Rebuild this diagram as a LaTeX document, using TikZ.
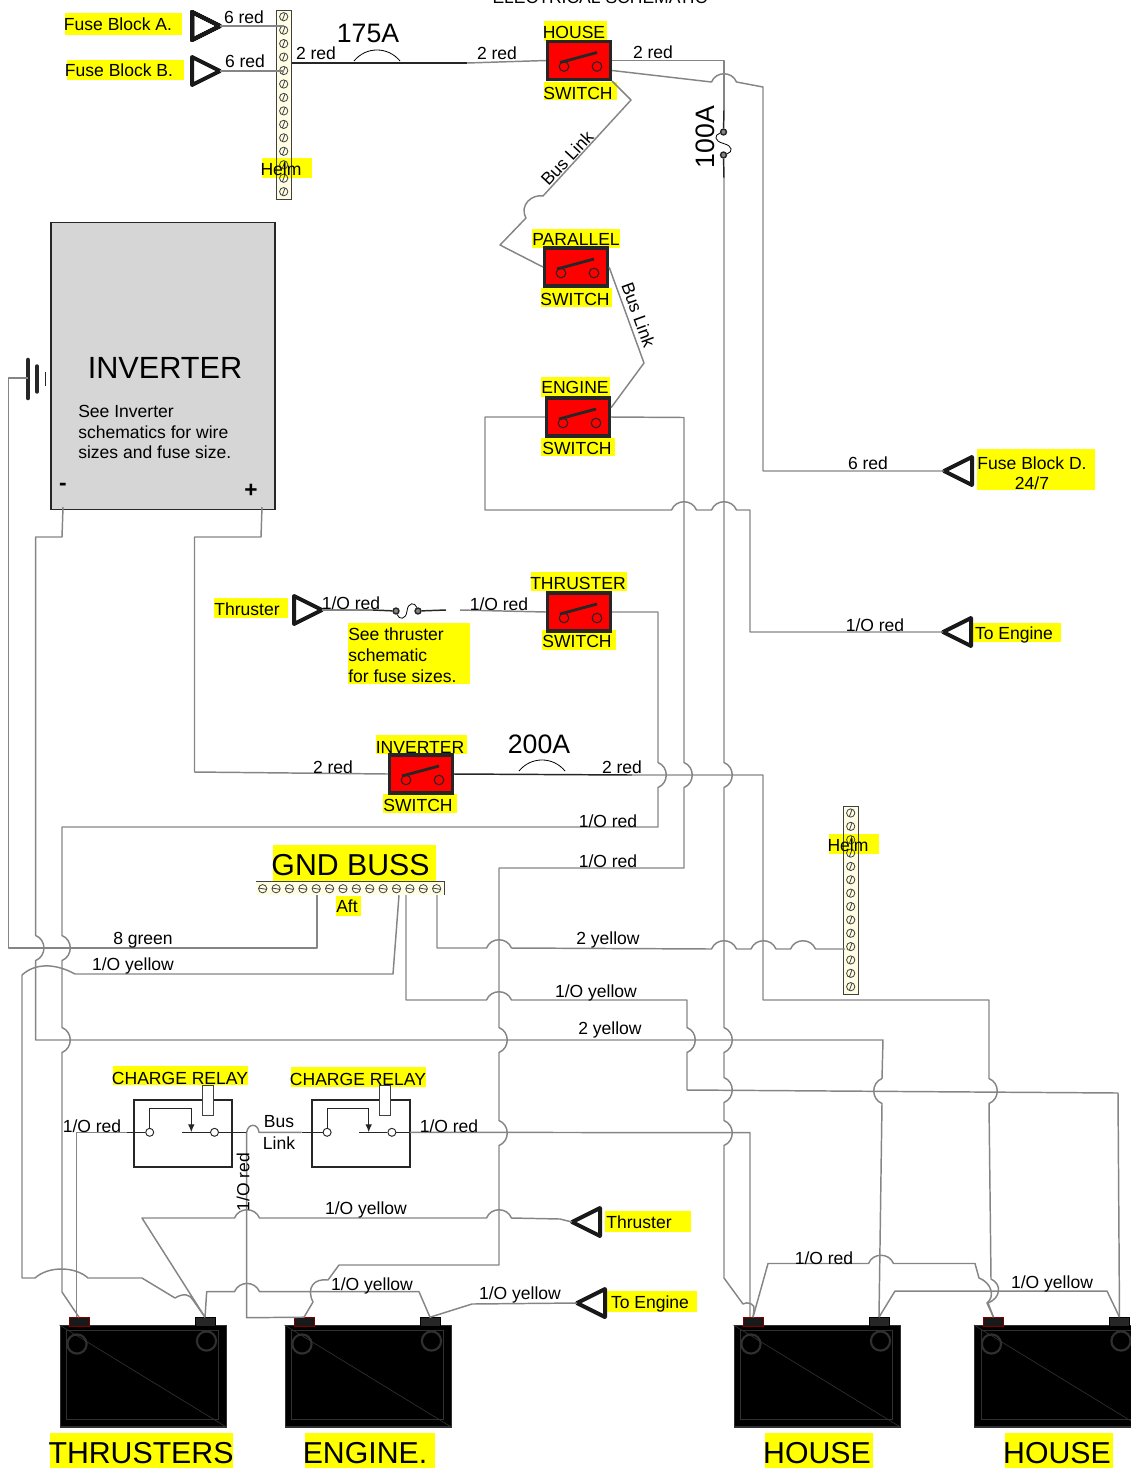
\documentclass[tikz,border=0pt]{standalone}
\usepackage{fontspec}
\setmainfont{Liberation Sans}
\usepackage{xcolor}
\usetikzlibrary{shapes.geometric}
\usetikzlibrary{arrows.meta}
\definecolor{wiregray}{HTML}{858585}
\definecolor{markyellow}{HTML}{FFFF00}
\definecolor{barcream}{HTML}{FFFDE3}
\definecolor{invgray}{HTML}{D6D6D6}
\definecolor{batgray}{HTML}{303030}
\tikzset{
	wire/.style={draw=wiregray, line width=1.1pt, line join=round},
	cable/.style={draw=black!85, line width=1.1pt},
	fusearc/.style={draw=black, line width=.6pt},
	lbl/.style={font=\fontsize{13.15}{15.4}\selectfont, inner sep=0pt, align=left},
	biglbl/.style={font=\fontsize{20}{24}\selectfont, inner sep=0pt},
	hugelbl/.style={font=\fontsize{22.7}{28}\selectfont, inner sep=0pt},
	swbox/.style={draw=black!85, fill=red, line width=2.4pt, minimum width=47.25pt, minimum height=28.5pt, inner sep=0pt},
	swpin/.style={draw=black!85, line width=.8pt},
	swarm/.style={draw=black!85, line width=2.1pt},
	termtri/.style={isosceles triangle, isosceles triangle stretches, draw=black!90, line width=3pt, line join=round, minimum width=21pt, minimum height=21pt, inner sep=0pt, outer sep=0pt, anchor=apex},
	fusedot/.style={circle, draw=black!85, fill=wiregray, line width=1.1pt, minimum size=4.4pt, inner sep=0pt},
	screw/.style={draw=black!75, line width=.6pt},
	relaybox/.style={draw=black!85, fill=white, line width=1.4pt, minimum width=73.5pt, minimum height=50pt, anchor=north west, inner sep=0pt},
	relaytab/.style={draw=black!75, fill=white, line width=.8pt, minimum width=8pt, minimum height=22pt, inner sep=0pt},
	relaypin/.style={circle, draw=black!85, fill=white, line width=.7pt, minimum size=6pt, inner sep=0pt},
	relayline/.style={draw=black!85, line width=.9pt},
	batbox/.style={draw=batgray, fill=black, line width=.9pt, minimum width=124.5pt, minimum height=76pt, anchor=north west, inner sep=0pt},
	batline/.style={draw=batgray, line width=.5pt},
	batneg/.style={draw=red!50!black, fill=black!90, line width=.5pt, minimum width=15pt, minimum height=6.4pt, inner sep=0pt},
	batpos/.style={draw=black, fill=black!85, line width=.5pt, minimum width=15pt, minimum height=6.4pt, inner sep=0pt}
}
\newcommand{\jumpup}[2]{-- ({#1-12.5},#2) .. controls ({#1-8},{#2-11}) and ({#1+8},{#2-11}) .. ({#1+12.5},#2)}
\newcommand{\jumpright}[2]{-- (#1,{#2-12.5}) .. controls ({#1+11},{#2-8}) and ({#1+11},{#2+8}) .. (#1,{#2+12.5})}
\newcommand{\jumpleft}[2]{-- (#1,{#2-12.5}) .. controls ({#1-11},{#2-8}) and ({#1-11},{#2+8}) .. (#1,{#2+12.5})}
\newcommand{\screwmark}[3]{\draw[screw] (#1,#2) circle (3.1pt) (#1,#2) ++(#3:3.1pt) -- ++(#3+180:6.2pt);}
\newcommand{\mainswitch}[3]{
	\node[swbox] (#1) at (#2,#3) {};
	\draw[swarm] (#1.center) ++(-19,2) -- ++(37,-10);
	\draw[swpin] (#1.center) ++(-15,6) circle (3.6pt);
	\draw[swpin] (#1.center) ++(18,6) circle (3.6pt);
}
\newcommand{\chargerelay}[2]{
	\node[relaybox] (#1) at (#2,1099) {};
	\node[relaytab] (#1-tab) at ({#2+74.5},1100.4) {};
	\node[relaypin] (#1-a) at ({#2+16.4},1132.3) {};
	\node[relaypin] (#1-b) at ({#2+81.2},1132.3) {};
	\draw[relayline, -{Latex[length=6pt,width=5pt]}] (#1-a.north) -- ({#2+16.4},1108.3) -- ({#2+58},1108.3) -- ({#2+58},1132.3);
	\draw[relayline] ({#2+48.7},1132.3) -- (#1-b.west);
}
\newcommand{\battery}[2]{
	\node[batbox] (#1) at (#2,1325) {};
	\draw[batline] ({#2+7},1330) rectangle ({#2+159},1419);
	\draw[batline] (#2,1325) -- ({#2+166},1426.5);
	\draw[batgray, line width=1.6pt] ({#2+17.5},1344) circle (7.2pt);
	\draw[batgray, line width=1.6pt] ({#2+147},1341) circle (7.2pt);
	\node[batneg] (#1-neg) at ({#2+19.5},1321.8) {};
	\node[batpos] (#1-pos) at ({#2+145.5},1321.8) {};
}
\begin{document}
\begin{tikzpicture}[x=0.75pt,y=-0.75pt]
	\useasboundingbox (0,0) rectangle (1131,1468);
	% bars go under the marker
	\node[fill=barcream, minimum width=10.9pt, minimum height=141.5pt, inner sep=0pt] (helmA) at (284.2,105) {};
	\node[fill=barcream, minimum width=10.9pt, minimum height=140.7pt, inner sep=0pt] (helmB) at (851,900.5) {};
	\node[fill=barcream, minimum width=141.2pt, minimum height=10pt, inner sep=0pt] (gndbar) at (350.2,888.3) {};
	\foreach \xa/\ya/\xb/\yb in {65/13/182/35, 67/60/184/80, 262/158/312/178, 544/21/607/41, 544/82/617/100, 532/229/620/248, 541/288/612/307, 541/377/610/397, 541/438/615/456, 977/449/1095/490, 973/623/1061/642, 214/598/288/618, 531/572/627/591, 542/630/616/650, 348/623/470/684, 376/735/467/754, 383/794/457/813, 273/845/436/881, 336/896/361/916, 829/834/879/854, 113/1066/248/1085, 291/1067/426/1087, 605/1211/691/1232, 607/1291/697/1312, 50/1433/233/1468, 305/1433/435/1468, 765/1433/873/1468, 1005/1433/1113/1468}
		\fill[markyellow] (\xa,\ya) rectangle (\xb,\yb);
	\draw[black!75, line width=.8pt] (helmA.south west) rectangle (helmA.north east);
	\draw[black!75, line width=.8pt] (helmB.south west) rectangle (helmB.north east);
	\draw[black!75, line width=.7pt] (gndbar.north west) -- (gndbar.north east) -- (gndbar.south east);
	\foreach \i in {0,...,13} {
		\screwmark{283.7}{{16.7+13.46*\i}}{70}
		\screwmark{850.7}{{813+13.36*\i}}{70}
		\screwmark{{262.7+13.38*\i}}{888.7}{-10}
	}
	% inverter and earth
	\node[draw=black!85, fill=invgray, line width=1.1pt, minimum width=168pt, minimum height=215.5pt, inner sep=0pt] (inverter) at (163.2,366) {};
	\coordinate (invneg) at (63,507);
	\coordinate (invpos) at (262,507);
	\coordinate (earth) at (28,378);
	\draw[black!85, line width=3.4pt, line cap=round] (28,360) -- (28,398);
	\draw[black!85, line width=2.6pt, line cap=round] (37,366) -- (37,392);
	\draw[black!85, line width=1.1pt] (45.7,372) -- (45.7,386);
	% switches
	\foreach \nm/\px/\py in {housesw/579/60.5, parallelsw/576/267, enginesw/578/417, thrustersw/579/612, invertersw/421/774}
		\mainswitch{\nm}{\px}{\py}
	% terminals
	\node[termtri] (fuseA) at (220,26) {};
	\node[termtri] (fuseB) at (220,71) {};
	\node[termtri] (thrusterA) at (322,610) {};
	\node[termtri, shape border rotate=180] (fuseD) at (944,471) {};
	\node[termtri, shape border rotate=180] (toengineA) at (943,632) {};
	\node[termtri, shape border rotate=180] (thrusterB) at (572,1222) {};
	\node[termtri, shape border rotate=180] (toengineB) at (577,1303) {};
	% fuses
	\node[fusedot] (fuseCa) at (723.5,132) {};
	\node[fusedot] (fuseCb) at (723.5,155) {};
	\node[fusedot] (fuseTa) at (396,611) {};
	\node[fusedot] (fuseTb) at (418,611) {};
	\draw[fusearc] (fuseCa) .. controls (714,135) and (714,141) .. (723.5,143.5) .. controls (733,146) and (733,152) .. (fuseCb);
	\draw[fusearc] (fuseTa) .. controls (399,620) and (406,620) .. (407,611) .. controls (408,602) and (415,602) .. (fuseTb);
	\draw[fusearc] (354,61) .. controls (366,46.3) and (388,46.3) .. (400,61);
	\draw[fusearc] (519,771) .. controls (531,756.3) and (553,756.3) .. (565,771);
	% relays and batteries
	\chargerelay{relayA}{133.3}
	\chargerelay{relayB}{310.7}
	\battery{thr}{59.5}
	\battery{eng}{284.5}
	\battery{hsa}{733.5}
	\battery{hsb}{974}
	% top wires
	\draw[wire] (fuseA.apex) -- (fuseA.apex -| helmA.center);
	\draw[wire] (fuseB.apex) -- (fuseB.apex -| helmA.center);
	\draw[cable] (helmA.east |- 0,63) -- (467,63);
	\draw[wire] (467,63) -- (housesw.west);
	\draw[wire] (housesw.east) -- (724,60.5) -- (724,110);
	\draw[cable] (724,110) -- (fuseCa) (fuseCb) -- (724,178);
	\draw[wire] (724,178) \jumpright{724}{775} \jumpright{724}{1040} \jumpright{724}{1090} \jumpright{724}{1133} -- (724,1278) -- (743,1304) .. controls (747,1301) and (756,1304) .. (754,1310) -- (hsa-neg.north);
	\draw[wire] ([yshift=-7.5pt]housesw.east) \jumpup{724}{82} -- (763,87) -- (763,471) -- (fuseD.apex);
	\draw[wire] (housesw.south east) -- (631,100) -- (543,196) .. controls (532,194) and (519,205) .. (526,218) -- (500,245) -- (parallelsw.west);
	\draw[wire] (parallelsw.east) -- (644,363) -- ([yshift=7pt]enginesw.east);
	% engine and thruster
	\draw[wire] (enginesw.east) -- (684,417.5) \jumpright{684}{775} -- (684,868) -- (499,868) \jumpright{499}{1040} \jumpright{499}{1133} -- (499,1265) -- (339,1265) -- (328,1280) .. controls (314,1278) and (306,1288) .. (313,1302) -- (eng-neg.north);
	\draw[wire] (enginesw.west) -- (485,417) -- (485,510) \jumpup{684}{510} \jumpup{724}{510} -- (750,510) -- (750,632) -- (toengineA.apex);
	\draw[wire] (thrusterA.apex) -- (373,610);
	\draw[cable] (373,610) -- (fuseTa) (fuseTb) -- (446,610);
	\draw[wire] (460,610) -- (thrustersw.west);
	\draw[wire] (thrustersw.east) -- (658,612) \jumpright{658}{775} -- (658,827) -- (62,827) \jumpright{62}{948} \jumpright{62}{1040} -- (62,1292) -- (thr-neg.north);
	% inverter leads
	\draw[wire] (earth) -- (8.5,378) -- (8.5,948) -- (317,948) -- (317,948 |- gndbar.south);
	\draw[wire] (invneg) -- (62,537) -- (35.7,537) \jumpright{35.7}{948} -- (35.7,1040) -- (883,1040) \jumpleft{882}{1091} -- (hsa-pos.north);
	\draw[wire] (invpos) -- (261,537) -- (194.5,537) -- (194.5,772) -- (invertersw.west);
	\draw[cable] (invertersw.east) -- (632,775);
	\draw[wire] (632,775) -- (763,775) -- (763,1000) -- (989,1000) \jumpright{989}{1091} -- (991,1279) .. controls (1002,1284) and (1001,1298) .. (988,1303) -- (hsb-neg.north);
	% ground bar leads
	\draw[wire] (437,948 |- gndbar.south) -- (437,948) \jumpup{499}{948} \jumpup{724}{949} \jumpup{763.5}{949} \jumpup{803}{949} -- (845,949);
	\draw[wire] (406,1000 |- gndbar.south) -- (406,1000) \jumpup{499}{1000} -- (687,1000) \jumpright{687}{1040} -- (687,1090) -- (1118,1093) -- (hsb-pos.north);
	\draw[wire] (399,0 |- gndbar.south) -- (393,974) -- (75,974) .. controls (55,963) and (35,963) .. (22,975) -- (22,1278) -- (35,1278) .. controls (48,1266) and (75,1266) .. (88,1278) -- (142,1278) -- (175,1298) .. controls (183,1293) and (190,1294) .. (193,1300) -- (thr-pos.north);
	% relay leads
	\draw[cable] (relayA-a) -- (127,1132.3);
	\draw[wire] (127,1132.3) -- (76.7,1132.3) -- (76.7,1132 |- thr-neg.north);
	\draw[cable] (relayA-b) -- (246.7,1132.3);
	\draw[wire] (246.7,1132.3) .. controls (248,1123) and (258,1123) .. (259,1132.3) -- (301.7,1132.3);
	\draw[cable] (301.7,1132.3) -- (relayB-a);
	\draw[cable] (relayB-b) -- (410,1132.3);
	\draw[wire] (410,1132.3) -- (750,1132.7) -- (750,1133 |- hsa-neg.north);
	\draw[wire] (246.7,1132.3) -- (246.7,1317.7) -- (eng-neg.north);
	\draw[wire] (thr-pos.north) -- (142,1218) \jumpup{247}{1218} \jumpup{499}{1218} -- (560,1219) -- (thrusterB.apex);
	\draw[wire] (thr-pos.north) -- (206.7,1291.7) \jumpup{247}{1291.7} -- (419,1291.7) -- (eng-pos.north) -- (472,1304) -- (toengineB.apex);
	\draw[wire] (hsa-neg.north) -- (768,1263.5) \jumpup{881}{1263.5} -- (975,1263.5) -- (979,1278) .. controls (992,1283) and (995,1297) .. (987,1303) -- (hsb-neg.north);
	\draw[wire] (hsa-pos.north) -- (895,1291) -- (1107,1291) -- (hsb-pos.north);
	% labels
	\node[lbl] (title) at (600,-3) {ELECTRICAL SCHEMATIC};
	\node[lbl] (nameA) at (118,24) {Fuse Block A.};
	\node[lbl] (nameB) at (119,70) {Fuse Block B.};
	\node[lbl] (redA) at (244,17) {6 red};
	\node[lbl] (redB) at (245,61) {6 red};
	\node[lbl] (helmtxtA) at (281,169) {Helm};
	\node[lbl] (redC) at (316,53) {2 red};
	\node[biglbl] (amp175) at (368,33) {175A};
	\node[lbl] (redD) at (497,53) {2 red};
	\node[lbl] (redE) at (653,52) {2 red};
	\node[biglbl, rotate=90] (amp100) at (705,137) {100A};
	\node[lbl] (housetop) at (574,32) {HOUSE};
	\node[lbl] (housebot) at (578,93) {SWITCH};
	\node[lbl, rotate=47] (linkA) at (567,158) {Bus Link};
	\node[lbl] (paralleltop) at (576,239) {PARALLEL};
	\node[lbl] (parallelbot) at (575,299) {SWITCH};
	\node[lbl, rotate=-70] (linkB) at (638.5,315) {Bus Link};
	\node[lbl] (enginetop) at (575,387) {ENGINE};
	\node[lbl] (enginebot) at (577,448) {SWITCH};
	\node[font=\fontsize{23}{28}\selectfont, inner sep=0pt] (invname) at (165,368) {INVERTER};
	\node[lbl, anchor=north west] (invnote) at (78,405) {See Inverter\\schematics for wire\\sizes and fuse size.};
	\node[font=\bfseries\fontsize{17}{20}\selectfont, inner sep=0pt] (invminus) at (63,487) {-};
	\node[font=\bfseries\fontsize{17}{20}\selectfont, inner sep=0pt] (invplus) at (251,491) {+};
	\node[lbl] (redF) at (868,463) {6 red};
	\node[lbl, align=center] (nameD) at (1032,473) {Fuse Block D.\\24/7};
	\node[lbl] (toengtxtA) at (1014,635) {To Engine};
	\node[lbl] (thrustertxtA) at (247,609) {Thruster};
	\node[lbl] (redG) at (351,603) {1/O red};
	\node[lbl] (redH) at (499,604) {1/O red};
	\node[lbl] (thrustertop) at (578,583) {THRUSTER};
	\node[lbl] (thrusterbot) at (577,641) {SWITCH};
	\node[lbl, anchor=north west] (thrusternote) at (348,628) {See thruster\\schematic\\for fuse sizes.};
	\node[lbl] (redI) at (875,625) {1/O red};
	\node[lbl] (invertertop) at (420,747) {INVERTER};
	\node[lbl] (inverterbot) at (418,805) {SWITCH};
	\node[lbl] (redJ) at (333,767) {2 red};
	\node[biglbl] (amp200) at (539,744) {200A};
	\node[lbl] (redK) at (622,767) {2 red};
	\node[lbl] (redL) at (608,821) {1/O red};
	\node[lbl] (redM) at (608,861) {1/O red};
	\node[hugelbl] (gndtxt) at (350.5,865) {GND BUSS};
	\node[lbl] (afttxt) at (347,906) {Aft};
	\node[lbl] (helmtxtB) at (848,845) {Helm};
	\node[lbl] (yellowA) at (608,940) {2 yellow};
	\node[lbl] (greenA) at (143,940) {8 green};
	\node[lbl] (yellowB) at (133,966) {1/O yellow};
	\node[lbl] (yellowC) at (596,993) {1/O yellow};
	\node[lbl] (yellowD) at (610,1030) {2 yellow};
	\node[lbl] (relaytxtA) at (180,1078) {CHARGE RELAY};
	\node[lbl] (relaytxtB) at (358,1079) {CHARGE RELAY};
	\node[lbl] (bustxt) at (279,1122) {Bus};
	\node[lbl] (linktxt) at (279,1143) {Link};
	\node[lbl] (redN) at (92,1126) {1/O red};
	\node[lbl] (redO) at (449,1126) {1/O red};
	\node[lbl, rotate=90] (redP) at (243,1182) {1/O red};
	\node[lbl] (yellowE) at (366,1210) {1/O yellow};
	\node[lbl] (yellowF) at (372,1286) {1/O yellow};
	\node[lbl] (yellowG) at (520,1295) {1/O yellow};
	\node[lbl] (thrustertxtB) at (639,1222) {Thruster};
	\node[lbl] (toengtxtB) at (650,1304) {To Engine};
	\node[lbl] (redQ) at (824,1258) {1/O red};
	\node[lbl] (yellowH) at (1052,1284) {1/O yellow};
	\node[hugelbl] (batA) at (141,1453) {THRUSTERS};
	\node[hugelbl] (batB) at (365,1453) {ENGINE.};
	\node[hugelbl] (batC) at (817,1453) {HOUSE};
	\node[hugelbl] (batD) at (1057,1453) {HOUSE};
\end{tikzpicture}
\end{document}
